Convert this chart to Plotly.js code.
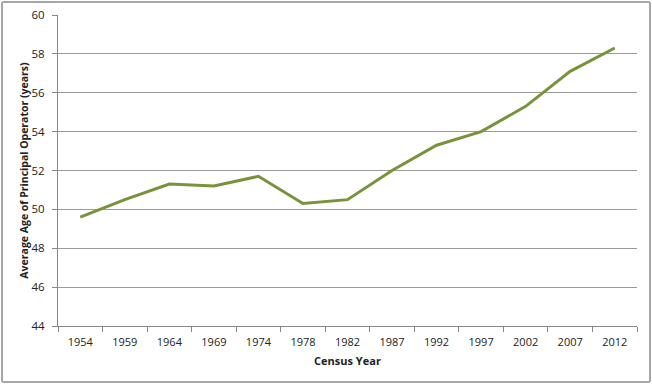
<!DOCTYPE html>
<html>
<head>
<meta charset="utf-8">
<script src="https://cdn.plot.ly/plotly-3.0.1.min.js"></script>
<style>
html,body{margin:0;padding:0;background:#fff;}
#chart{position:absolute;left:1px;top:1px;width:646px;height:378px;border:2px solid #a6a6a6;border-radius:3px;}
</style>
</head>
<body>
<div id="chart"></div>
<script>
const years = ["1954","1959","1964","1969","1974","1978","1982","1987","1992","1997","2002","2007","2012"];
const avgAge = [49.6,50.5,51.3,51.2,51.7,50.3,50.5,52.0,53.3,54.0,55.3,57.1,58.3];
const yTicks = [44,46,48,50,52,54,56,58,60];

const trace = {
  x: years,
  y: avgAge,
  type: 'scatter',
  mode: 'lines',
  line: {color: '#77933C', width: 3},
  hoverinfo: 'x+y'
};

const layout = {
  width: 646,
  height: 378,
  margin: {l: 55, r: 12, t: 12, b: 55},
  paper_bgcolor: '#ffffff',
  plot_bgcolor: '#ffffff',
  showlegend: false,
  font: {family: 'Open Sans, Noto Sans, sans-serif', size: 11, color: '#222'},
  xaxis: {
    type: 'category',
    range: [-0.5, years.length - 0.5],
    tickson: 'boundaries',
    ticks: 'outside',
    ticklen: 5,
    tickcolor: '#868686',
    ticklabelstandoff: 6,
    showline: true,
    linecolor: '#868686',
    linewidth: 1,
    showgrid: false,
    tickfont: {size: 11, color: '#222'},
    title: {text: '<b>Census Year</b>', font: {size: 11, color: '#222'}, standoff: 9}
  },
  yaxis: {
    range: [44, 60],
    tickvals: yTicks,
    ticks: 'outside',
    ticklen: 5,
    tickcolor: '#868686',
    ticklabelstandoff: 5,
    showline: true,
    linecolor: '#868686',
    linewidth: 1,
    showgrid: true,
    gridcolor: '#9a9a9a',
    gridwidth: 1,
    zeroline: false,
    tickfont: {size: 11.5, color: '#222'},
    title: {text: '<b>Average Age of Principal Operator (years)</b>', font: {size: 10.5, color: '#222'}, standoff: 0}
  }
};

Plotly.newPlot('chart', [trace], layout, {displayModeBar: false, staticPlot: true});
</script>
</body>
</html>
